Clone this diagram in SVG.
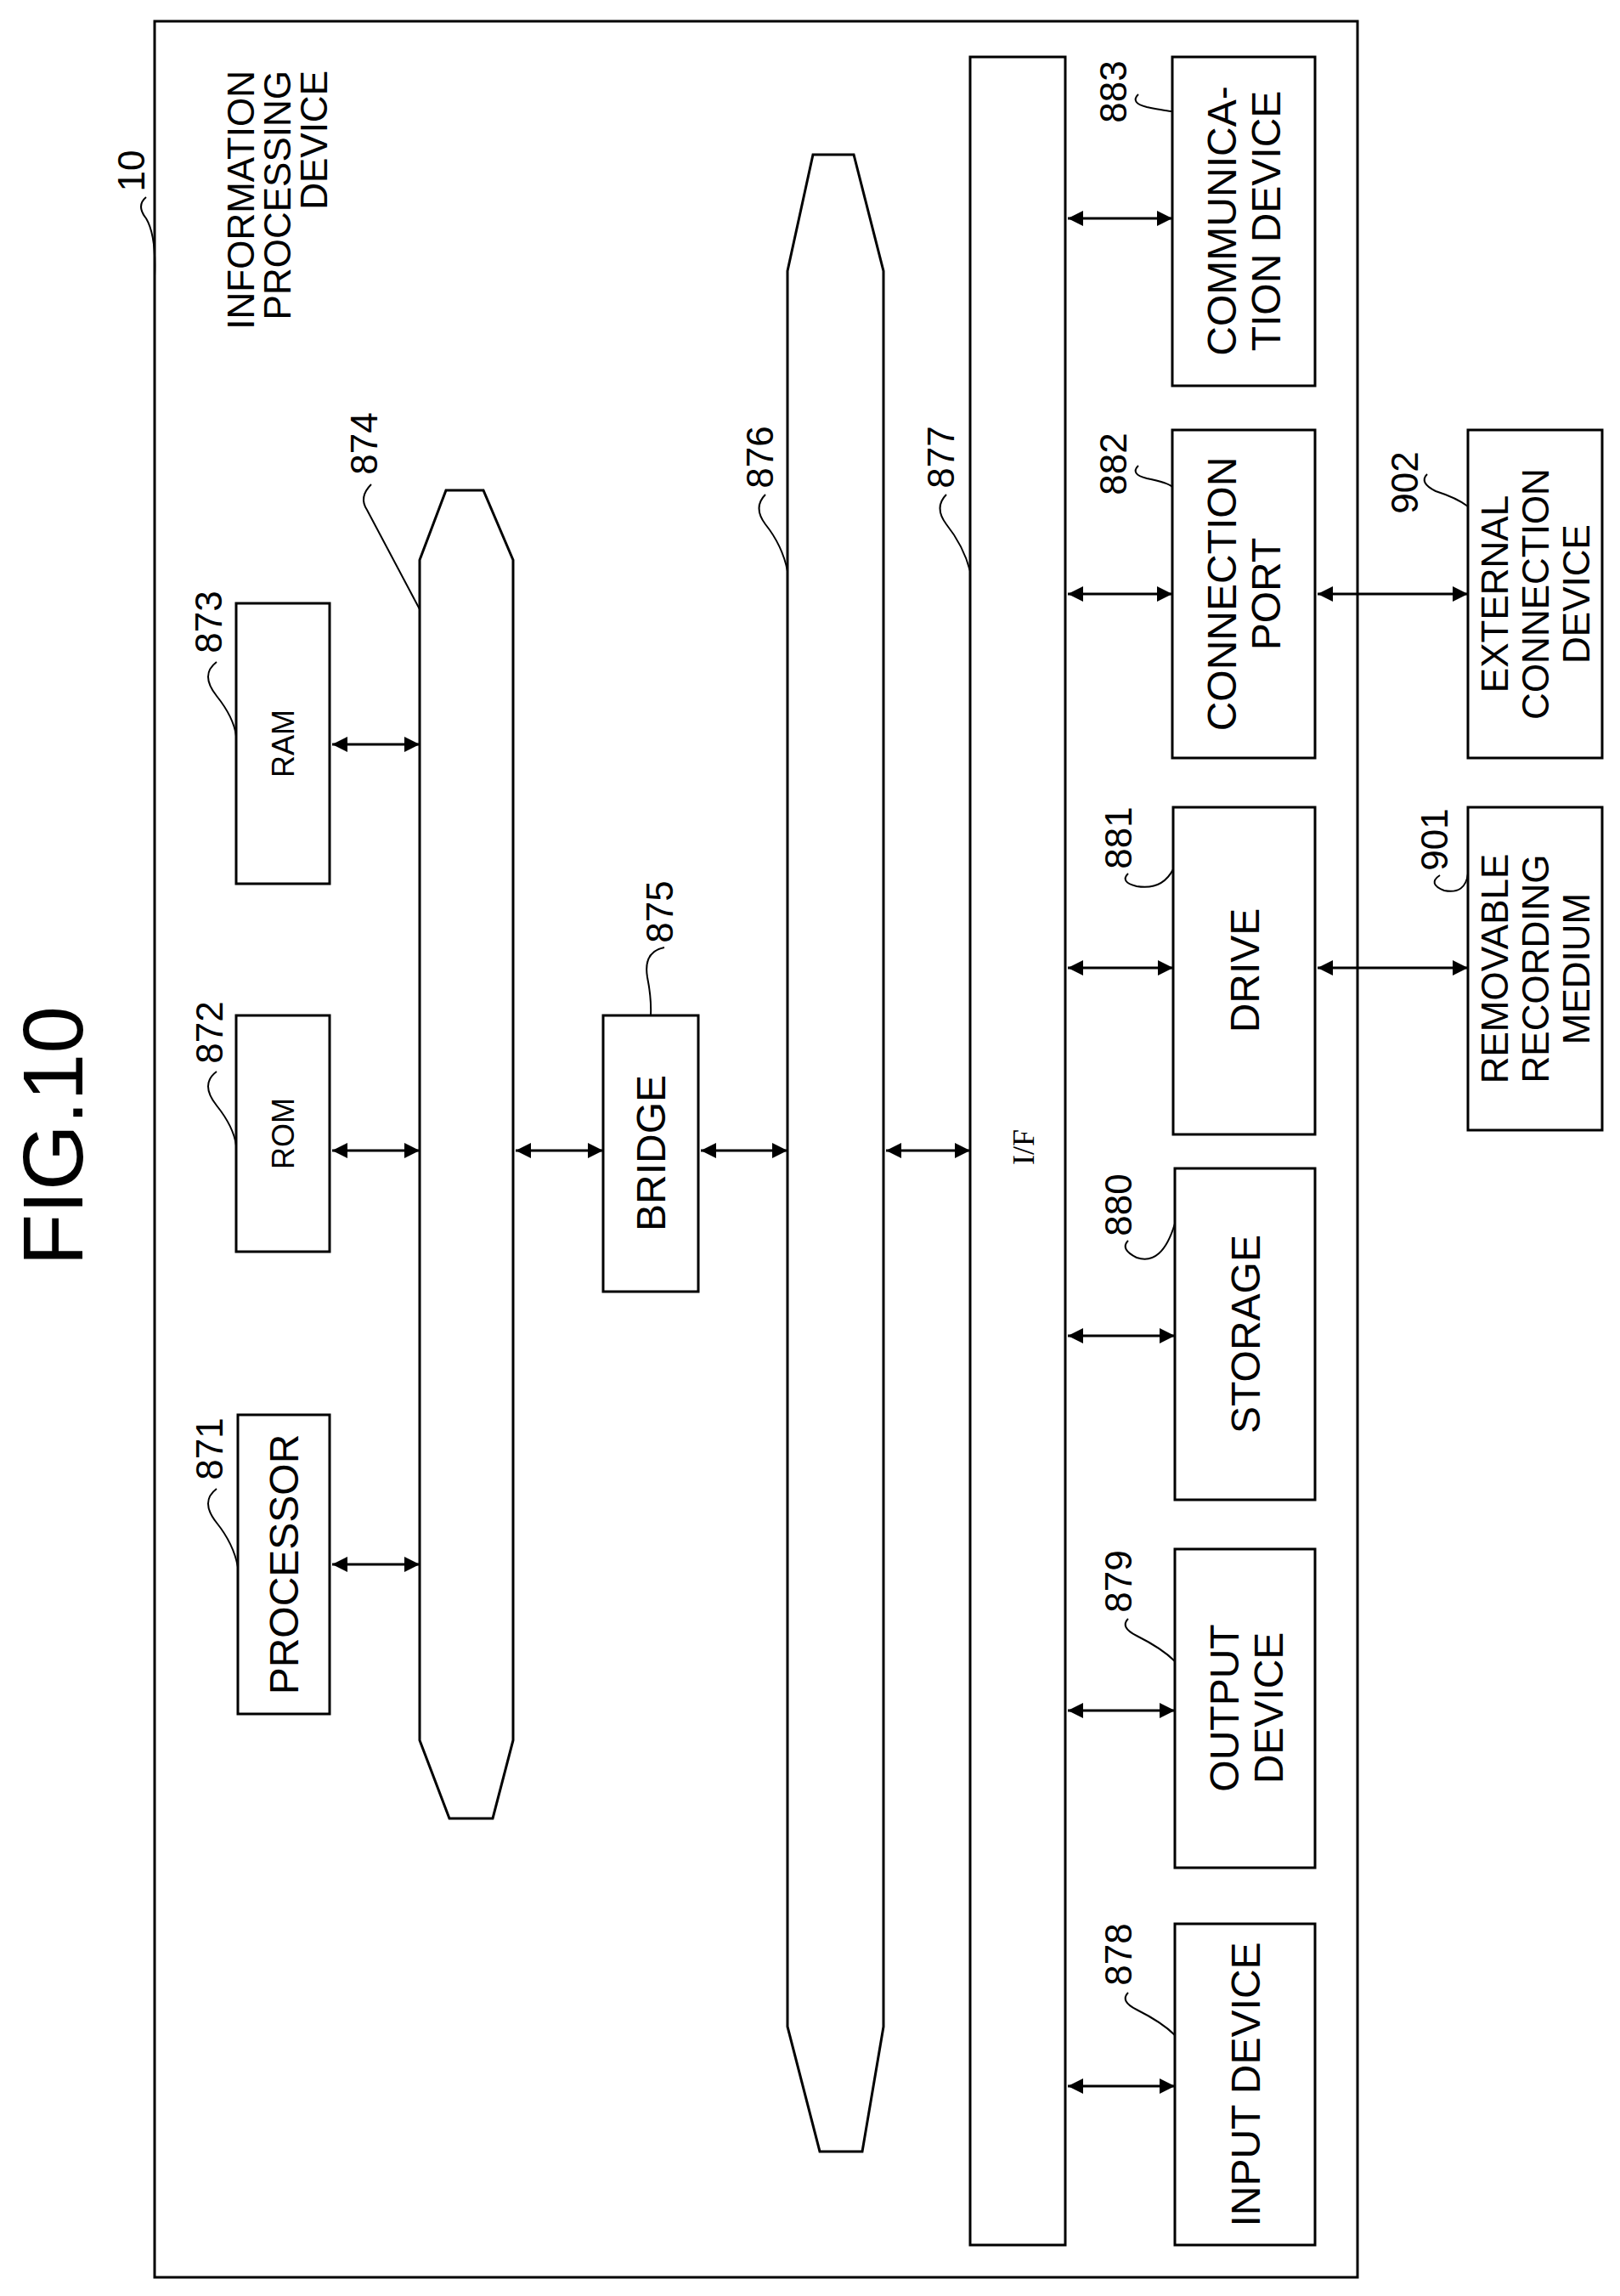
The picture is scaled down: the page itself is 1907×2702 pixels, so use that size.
<svg xmlns="http://www.w3.org/2000/svg" width="1907" height="2702" viewBox="0 0 1907 2702">
<style>
rect,path.s{fill:none;stroke:#000;stroke-width:3}
.c line{stroke:#000;stroke-width:3;marker-start:url(#ah);marker-end:url(#ah)}
.l{fill:none;stroke:#000;stroke-width:2}
text{font-family:"Liberation Sans",Arial,sans-serif;fill:#000;text-anchor:middle;dominant-baseline:central}
.b{font-size:48px}.n{font-size:44px}.sm{font-size:36px}
</style>
<defs><marker id="ah" viewBox="0 0 10 10" refX="10" refY="5" markerWidth="9" markerHeight="6" orient="auto-start-reverse" markerUnits="strokeWidth"><path d="M0,0L10,5L0,10z" fill="#000"/></marker></defs>
<rect width="1907" height="2702" fill="#fff" style="stroke:none"/>
<text transform="translate(62,1337) rotate(-90)" style="font-size:100px">FIG.10</text>
<g id="n10">
<rect x="182" y="25" width="1416" height="2655"/>
<text class="n" transform="translate(154,201) rotate(-90)">10</text>
<path class="l" d="M172,232 q-12,10 0,25 q12,20 10,68"/>
<text class="n" transform="translate(283,83) rotate(-90)" style="text-anchor:end">INFORMATION</text>
<text class="n" transform="translate(326,83) rotate(-90)" style="text-anchor:end">PROCESSING</text>
<text class="n" transform="translate(369,83) rotate(-90)" style="text-anchor:end">DEVICE</text>
</g>
<g id="n871"><rect x="280" y="1665" width="108" height="352"/><text class="b" transform="translate(334,1841) rotate(-90)">PROCESSOR</text><text class="n" transform="translate(246,1705) rotate(-90)">871</text><path class="l" d="M255,1752 q-20,15 0,40 q20,25 25,52"/></g>
<g id="n872"><rect x="278" y="1195" width="110" height="278"/><text class="sm" transform="translate(333,1334) rotate(-90)">ROM</text><text class="n" transform="translate(246,1215) rotate(-90)">872</text><path class="l" d="M255,1261 q-20,15 0,40 q20,25 23,47"/></g>
<g id="n873"><rect x="278" y="710" width="110" height="330"/><text class="sm" transform="translate(333,875) rotate(-90)">RAM</text><text class="n" transform="translate(245,732) rotate(-90)">873</text><path class="l" d="M255,779 q-20,15 0,40 q20,25 23,47"/></g>
<g id="n874"><path class="s" d="M525,577 L569,577 L604,659 L604,2048 L580,2140 L529,2140 L494,2048 L494,659 Z"/><text class="n" transform="translate(428,522) rotate(-90)">874</text><path class="l" d="M437,570 q-15,15 -5,30 L494,717"/></g>
<g id="n875"><rect x="710" y="1195" width="112" height="325"/><text class="b" transform="translate(766,1357) rotate(-90)">BRIDGE</text><text class="n" transform="translate(776,1073) rotate(-90)">875</text><path class="l" d="M782,1115 q-25,5 -20,35 q5,25 4,45"/></g>
<g id="n876"><path class="s" d="M957,182 L1005,182 L1040,319 L1040,2385 L1015,2532 L965,2532 L927,2385 L927,319 Z"/><text class="n" transform="translate(894,538) rotate(-90)">876</text><path class="l" d="M901,582 q-15,15 0,35 q20,25 26,55"/></g>
<g id="n877"><rect x="1142" y="67" width="112" height="2575"/><text class="sm" transform="translate(1205,1350) rotate(-90)" style="font-family:'Liberation Serif',serif">I/F</text><text class="n" transform="translate(1107,538) rotate(-90)">877</text><path class="l" d="M1114,582 q-15,15 0,35 q20,25 28,55"/></g>
<g id="n878"><rect x="1383" y="2264" width="165" height="378"/><text class="b" transform="translate(1466,2453) rotate(-90)">INPUT DEVICE</text><text class="n" transform="translate(1316,2300) rotate(-90)">878</text><path class="l" d="M1328,2345 q-10,10 10,20 q30,15 45,30"/></g>
<g id="n879"><rect x="1383" y="1823" width="165" height="375"/><text class="b" transform="translate(1441,2010) rotate(-90)">OUTPUT</text><text class="b" transform="translate(1493,2010) rotate(-90)">DEVICE</text><text class="n" transform="translate(1316,1861) rotate(-90)">879</text><path class="l" d="M1328,1905 q-10,10 10,20 q30,15 45,30"/></g>
<g id="n880"><rect x="1383" y="1375" width="165" height="390"/><text class="b" transform="translate(1466,1570) rotate(-90)">STORAGE</text><text class="n" transform="translate(1316,1418) rotate(-90)">880</text><path class="l" d="M1328,1460 q-10,10 10,20 q30,10 45,-40"/></g>
<g id="n881"><rect x="1381" y="950" width="167" height="385"/><text class="b" transform="translate(1465,1142) rotate(-90)">DRIVE</text><text class="n" transform="translate(1316,986) rotate(-90)">881</text><path class="l" d="M1328,1028 q-10,10 10,15 q30,5 43,-20"/></g>
<g id="n882"><rect x="1380" y="506" width="168" height="386"/><text class="b" transform="translate(1438,699) rotate(-90)">CONNECTION</text><text class="b" transform="translate(1490,699) rotate(-90)">PORT</text><text class="n" transform="translate(1310,546) rotate(-90)">882</text><path class="l" d="M1340,548 q-10,10 10,15 q25,5 30,10"/></g>
<g id="n883"><rect x="1380" y="67" width="168" height="387"/><text class="b" transform="translate(1438,260) rotate(-90)">COMMUNICA-</text><text class="b" transform="translate(1490,260) rotate(-90)">TION DEVICE</text><text class="n" transform="translate(1310,108) rotate(-90)">883</text><path class="l" d="M1340,111 q-10,10 10,15 q25,5 30,5"/></g>
<g id="n901"><rect x="1728" y="950" width="158" height="380"/><text class="n" transform="translate(1759,1140) rotate(-90)">REMOVABLE</text><text class="n" transform="translate(1807,1140) rotate(-90)">RECORDING</text><text class="n" transform="translate(1855,1140) rotate(-90)">MEDIUM</text><text class="n" transform="translate(1688,988) rotate(-90)">901</text><path class="l" d="M1695,1030 q-15,10 5,18 q25,5 28,-20"/></g>
<g id="n902"><rect x="1728" y="506" width="158" height="386"/><text class="n" transform="translate(1759,699) rotate(-90)">EXTERNAL</text><text class="n" transform="translate(1807,699) rotate(-90)">CONNECTION</text><text class="n" transform="translate(1855,699) rotate(-90)">DEVICE</text><text class="n" transform="translate(1653,568) rotate(-90)">902</text><path class="l" d="M1680,558 q-10,10 10,20 q25,8 38,18"/></g>
<g id="connectors" class="c">
<line x1="391" y1="1841" x2="494" y2="1841"/>
<line x1="391" y1="1354" x2="494" y2="1354"/>
<line x1="391" y1="876" x2="494" y2="876"/>
<line x1="607" y1="1354" x2="710" y2="1354"/>
<line x1="825" y1="1354" x2="927" y2="1354"/>
<line x1="1043" y1="1354" x2="1142" y2="1354"/>
<line x1="1257" y1="257" x2="1380" y2="257"/>
<line x1="1257" y1="699" x2="1380" y2="699"/>
<line x1="1257" y1="1139" x2="1381" y2="1139"/>
<line x1="1257" y1="1572" x2="1383" y2="1572"/>
<line x1="1257" y1="2013" x2="1383" y2="2013"/>
<line x1="1257" y1="2455" x2="1383" y2="2455"/>
<line x1="1551" y1="699" x2="1728" y2="699"/>
<line x1="1551" y1="1139" x2="1728" y2="1139"/>
</g>
</svg>
